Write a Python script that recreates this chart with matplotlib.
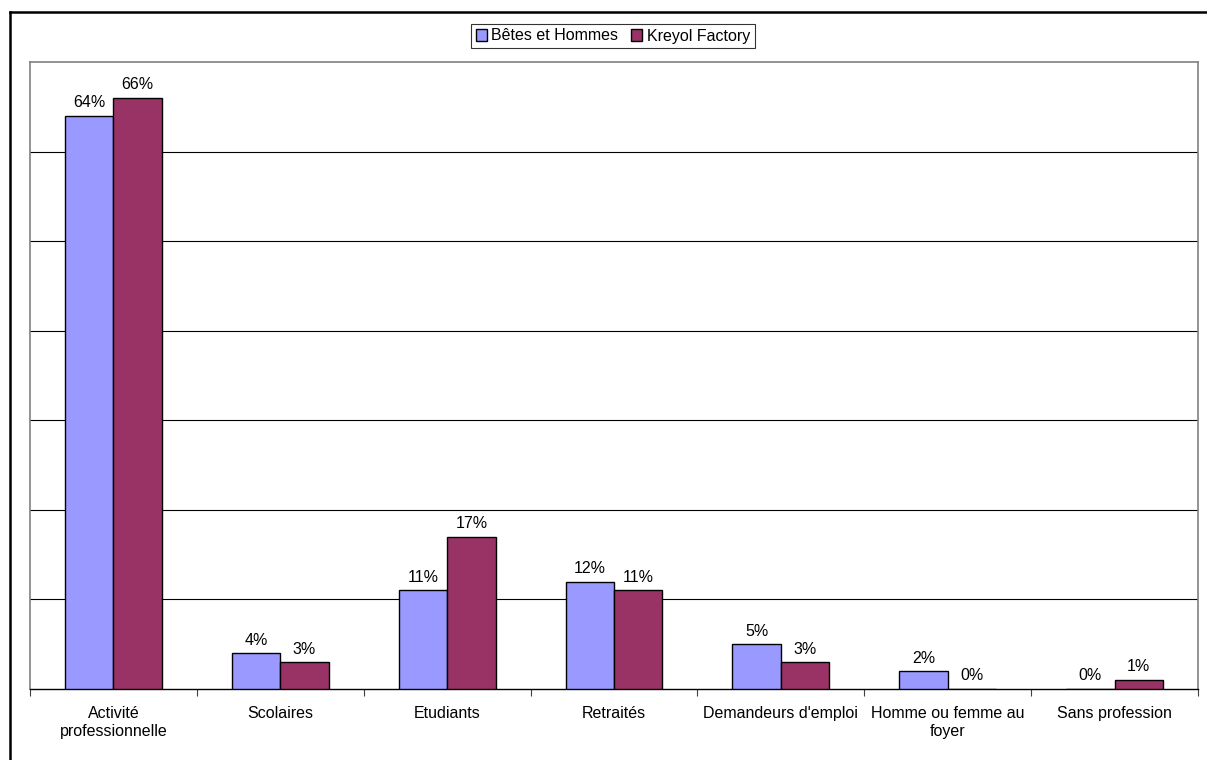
import numpy as np
import matplotlib.pyplot as plt
from matplotlib.lines import Line2D
from matplotlib.patches import Patch

# Data
categories = ["Activité\nprofessionnelle", "Scolaires", "Etudiants", "Retraités",
              "Demandeurs d'emploi", "Homme ou femme au\nfoyer", "Sans profession"]
betes = [64, 4, 11, 12, 5, 2, 0]
kreyol = [66, 3, 17, 11, 3, 0, 1]
series_names = ["Bêtes et Hommes", "Kreyol Factory"]

blue = "#9999FF"
red = "#993366"
fs = 11.5

plt.rcParams['font.family'] = ['Liberation Sans', 'DejaVu Sans']
plt.rcParams['font.size'] = fs

fig = plt.figure(figsize=(12.07, 7.6), dpi=100)
ax = fig.add_axes([30 / 1207, 71 / 760, 1168 / 1207, 627 / 760])

x = np.arange(len(categories)) + 0.5
w = 0.29
b1 = ax.bar(x - w / 2, betes, w, color=blue, edgecolor="black", linewidth=1.0, zorder=3)
b2 = ax.bar(x + w / 2, kreyol, w, color=red, edgecolor="black", linewidth=1.0, zorder=3)

for bars, vals in ((b1, betes), (b2, kreyol)):
    for rect, v in zip(bars, vals):
        ax.annotate(f"{v}%", (rect.get_x() + rect.get_width() / 2, v),
                    xytext=(0, 4), textcoords="offset points",
                    ha="center", va="bottom", fontsize=fs)

ax.set_xlim(0, 7)
ax.set_ylim(0, 70)
ax.set_yticks([])
for yv in range(10, 70, 10):
    ax.axhline(yv, color="black", linewidth=0.8, zorder=1)

# category boundaries as ticks, labels centred between them
ax.set_xticks(np.arange(0, 8))
ax.set_xticklabels([])
ax.set_xticks(x, minor=True)
ax.set_xticklabels(categories, minor=True, linespacing=1.25)
ax.tick_params(axis="x", which="major", length=5, width=0.8, color="#404040")
ax.tick_params(axis="x", which="minor", length=0, pad=12)

for s in ("top", "left", "right"):
    ax.spines[s].set_color("#808080")
    ax.spines[s].set_linewidth(1.2)
ax.spines["bottom"].set_color("black")
ax.spines["bottom"].set_linewidth(1.0)

handles = [Patch(facecolor=blue, edgecolor="black", linewidth=1.0),
           Patch(facecolor=red, edgecolor="black", linewidth=1.0)]
leg = fig.legend(handles, series_names, loc="center", bbox_to_anchor=(613 / 1207, 1 - 36 / 760),
                 ncol=2, frameon=True, fancybox=False, edgecolor="black",
                 handlelength=0.7, handleheight=0.7, handletextpad=0.3,
                 columnspacing=0.8, borderpad=0.3, fontsize=fs)
leg.get_frame().set_linewidth(0.8)

# outer chart frame (left and top edges visible)
fig.add_artist(Line2D([10 / 1207, 10 / 1207], [0, 1 - 12 / 760], transform=fig.transFigure,
                      color="black", linewidth=1.8))
fig.add_artist(Line2D([10 / 1207, 1], [1 - 12 / 760, 1 - 12 / 760], transform=fig.transFigure,
                      color="black", linewidth=1.8))

fig.savefig("out.png", dpi=100)
